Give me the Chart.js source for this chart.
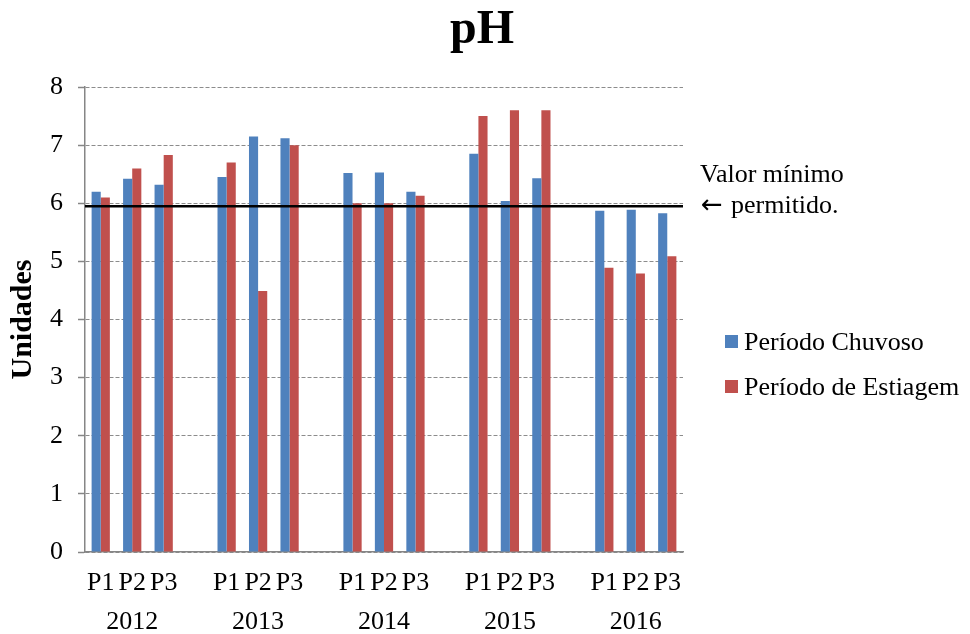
<!DOCTYPE html>
<html>
<head>
<meta charset="utf-8">
<script src="https://cdn.jsdelivr.net/npm/chart.js@4/dist/chart.umd.min.js"></script>
<style>
  html, body { margin: 0; padding: 0; background: #fff; }
  #wrap { position: relative; width: 970px; height: 634px; }
</style>
</head>
<body>
<div id="wrap"><canvas id="c"></canvas></div>
<script>
const years = ["2012", "2013", "2014", "2015", "2016"];
const points = ["P1", "P2", "P3"];
const chuvoso = [6.20, 6.42, 6.32, 6.45, 7.15, 7.12, 6.52, 6.53, 6.20, 6.85, 6.04, 6.43, 5.87, 5.89, 5.83];
const estiagem = [6.10, 6.60, 6.83, 6.70, 4.49, 7.00, 6.00, 6.00, 6.13, 7.50, 7.60, 7.60, 4.89, 4.79, 5.09];
const seriesNames = ["Período Chuvoso", "Período de Estiagem"];
const yTicks = [0, 1, 2, 3, 4, 5, 6, 7, 8];
const minLimit = 5.95;
const chartTitle = "pH";
const limitLine1 = "Valor mínimo";
const limitArrow = "\u2190";
const limitLine2 = "permitido.";

const FONT = "'Liberation Serif', 'Times New Roman', serif";
const BLUE = "#4F81BD", RED = "#C0504D", GRAY = "#868686";

// build slots: each year's 3 points, then an empty gap slot
const labels = [], dChuv = [], dEst = [];
years.forEach((yr, yi) => {
  points.forEach((p, pi) => {
    labels.push(pi === 1 ? [p, yr] : p);
    dChuv.push(chuvoso[yi * 3 + pi]);
    dEst.push(estiagem[yi * 3 + pi]);
  });
  if (yi < years.length - 1) { labels.push(""); dChuv.push(null); dEst.push(null); }
});

const extras = {
  id: 'extras',
  afterDatasetsDraw(chart) {
    const {ctx, chartArea, scales} = chart;
    const y = scales.y.getPixelForValue(minLimit);
    ctx.save();
    ctx.strokeStyle = "#000";
    ctx.lineWidth = 2.5;
    ctx.beginPath();
    ctx.moveTo(chartArea.left, y);
    ctx.lineTo(chartArea.right, y);
    ctx.stroke();
    ctx.restore();
  },
  afterDraw(chart) {
    const {ctx} = chart;
    ctx.save();
    ctx.fillStyle = "#000";
    ctx.textBaseline = "alphabetic";
    // title
    ctx.textAlign = "center";
    ctx.font = "bold 48px " + FONT;
    ctx.fillText(chartTitle, 482, 43);
    ctx.textAlign = "left";
    ctx.font = "26px " + FONT;
    ctx.fillText(limitLine1, 700, 182);
    ctx.fillText(limitLine2, 731, 213);
    ctx.font = "26px 'DejaVu Sans'";
    ctx.fillText(limitArrow, 701, 213);
    // legend
    ctx.font = "26px " + FONT;
    chart.data.datasets.forEach((d, i) => {
      const top = 335 + i * 45;
      ctx.fillStyle = d.backgroundColor;
      ctx.fillRect(725, top, 13, 13);
      ctx.fillStyle = "#000";
      ctx.fillText(d.label, 744, top + 15);
    });
    ctx.restore();
  }
};

new Chart(document.getElementById('c'), {
  type: 'bar',
  data: {
    labels: labels,
    datasets: [
      { label: seriesNames[0], data: dChuv, backgroundColor: BLUE, categoryPercentage: 0.58, barPercentage: 1.0 },
      { label: seriesNames[1], data: dEst, backgroundColor: RED, categoryPercentage: 0.58, barPercentage: 1.0 }
    ]
  },
  options: {
    responsive: true,
    maintainAspectRatio: false,
    animation: false,
    layout: { padding: { left: 0, right: 287, top: 87, bottom: 0 } },
    plugins: {
      legend: { display: false },
      tooltip: { enabled: false },
      title: { display: false }
    },
    scales: {
      x: {
        offset: true,
        grid: { display: false, drawTicks: false },
        border: { display: true, color: GRAY, width: 1.5 },
        ticks: {
          autoSkip: false, maxRotation: 0, minRotation: 0,
          color: '#000', padding: 12,
          font: { family: FONT, size: 26, lineHeight: 1.5 }
        },
        afterFit(s) { s.height = 82; }
      },
      y: {
        min: 0, max: 8,
        afterBuildTicks(s) { s.ticks = yTicks.map(v => ({ value: v })); },
        grid: {
          color: '#8c8c8c', lineWidth: 1,
          drawTicks: true, tickLength: 7, tickColor: GRAY, tickWidth: 1.5, tickBorderDash: []
        },
        border: { display: true, color: GRAY, width: 1.5, dash: [4, 2] },
        ticks: {
          color: '#000', padding: 15,
          font: { family: FONT, size: 26 }
        },
        title: {
          display: true, text: 'Unidades', color: '#000',
          font: { family: FONT, size: 30, weight: 'bold', lineHeight: 1.2 },
          padding: { top: 5, bottom: 0 }
        },
        afterFit(s) { s.width = 85; }
      }
    }
  },
  plugins: [extras]
});
</script>
</body>
</html>
